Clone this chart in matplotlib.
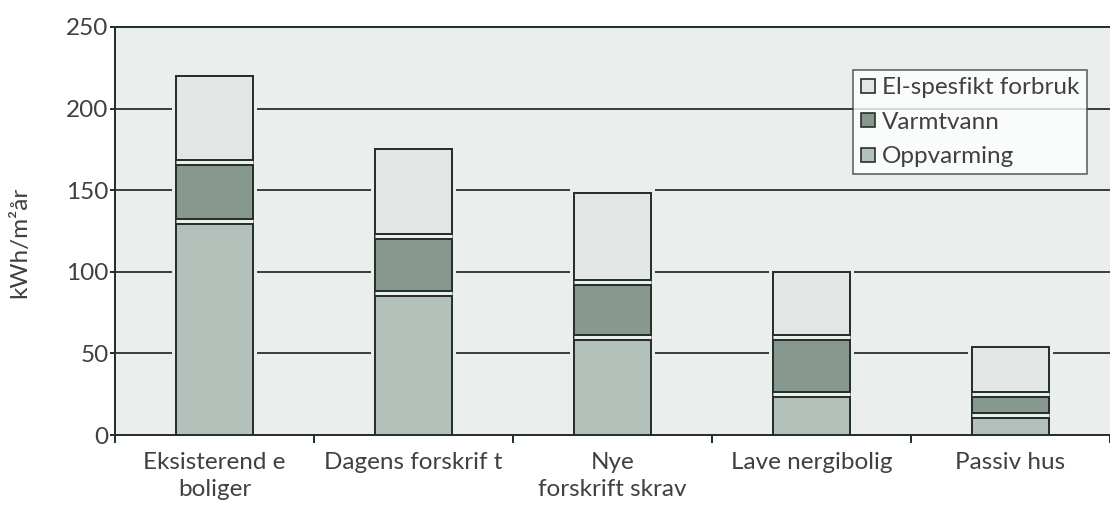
import matplotlib
matplotlib.use("Agg")
import matplotlib.pyplot as plt
import matplotlib.patheffects as pe
from matplotlib.lines import Line2D
import numpy as np

categories = ["Eksisterend e\nboliger", "Dagens forskrif t", "Nye\nforskrift skrav",
              "Lave nergibolig", "Passiv hus"]
oppvarming = [131, 87, 60, 25, 12]
varmtvann = [36, 35, 34, 35, 13]
el_spesifikt = [53, 53, 54, 40, 29]
series_names = ["Oppvarming", "Varmtvann", "El-spesfikt forbruk"]
y_ticks = [0, 50, 100, 150, 200, 250]

BG = "#eaeeed"
DARK = "#27302c"
TEXT = "#404040"
COLORS = ["#b3c1ba", "#87998f", "#e2e6e5"]
FS = 17.5

plt.rcParams["font.family"] = ["Lato", "DejaVu Sans"]

fig = plt.figure(figsize=(11.10, 5.15), dpi=100)
ax = fig.add_axes([115 / 1110, 80 / 515, 1 - 115 / 1110, 408 / 515])
ax.set_facecolor(BG)

x = np.arange(len(categories))
width = 0.39
px = 72 / fig.dpi  # one pixel in points

series = [oppvarming, varmtvann, el_spesifikt]
bottoms = np.zeros(len(categories))
for vals, col in zip(series, COLORS):
    vals = np.asarray(vals, dtype=float)
    # halo in the background colour that breaks the gridlines around each box
    ax.bar(x, vals, width, bottom=bottoms, color=BG, edgecolor=BG,
           linewidth=8 * px, zorder=2)
    ax.bar(x, vals, width, bottom=bottoms, color=col, edgecolor=DARK,
           linewidth=2 * px, zorder=3)
    bottoms += vals

# narrow gaps between the stacked segments
bounds = np.cumsum([oppvarming, varmtvann], axis=0)
for row in bounds:
    for xi, b in zip(x, row):
        ax.plot([xi - width / 2, xi + width / 2], [b, b], color=BG,
                lw=3 * px, solid_capstyle="butt", zorder=4,
                path_effects=[pe.Stroke(linewidth=7 * px, foreground=DARK,
                                        capstyle="butt"),
                              pe.Normal()])

ax.set_ylim(0, 250)
ax.set_xlim(-0.5, (1110 - 215) / 201)
ax.set_yticks(y_ticks)
for yv in y_ticks[1:-1]:
    ax.axhline(yv, color=DARK, lw=1.8 * px, zorder=1)

ax.spines["right"].set_visible(False)
for side in ["left", "bottom", "top"]:
    ax.spines[side].set_color(DARK)
    ax.spines[side].set_linewidth(2 * px)
ax.spines["left"].set_zorder(5)
ax.spines["bottom"].set_zorder(5)

ax.set_xticks(x)
ax.set_xticklabels(categories, fontsize=FS, color=TEXT, linespacing=1.35)
ax.tick_params(axis="x", length=0, pad=12)
ax.set_xticks(np.arange(-0.5, len(categories), 1.0), minor=True)
ax.tick_params(axis="x", which="minor", length=8 * px, width=2 * px, color=DARK)
ax.tick_params(axis="y", length=5 * px, width=2 * px, color=DARK, pad=1,
               labelsize=FS, labelcolor=TEXT)

fig.text(20 / 1110, 1 - 242 / 515, "kWh/m²år", rotation=90, fontsize=FS,
         color=TEXT, ha="center", va="center")

handles = [Line2D([], [], ls="none", marker="s", markersize=10,
                  markerfacecolor=c, markeredgecolor=DARK, markeredgewidth=1.2)
           for c in COLORS[::-1]]
leg = ax.legend(handles, series_names[::-1], loc="upper right",
                bbox_to_anchor=(1087 / 1110, 1 - 70 / 515),
                bbox_transform=fig.transFigure, frameon=True, fancybox=False,
                fontsize=FS, handlelength=0.6, handletextpad=0.3,
                labelspacing=0.55, borderpad=0.3, borderaxespad=0)
leg.get_frame().set_edgecolor(DARK)
leg.get_frame().set_linewidth(1.5 * px)
leg.get_frame().set_facecolor("white")
for t in leg.get_texts():
    t.set_color(TEXT)
leg.set_zorder(6)

fig.savefig("out.png", dpi=100, facecolor="white")
